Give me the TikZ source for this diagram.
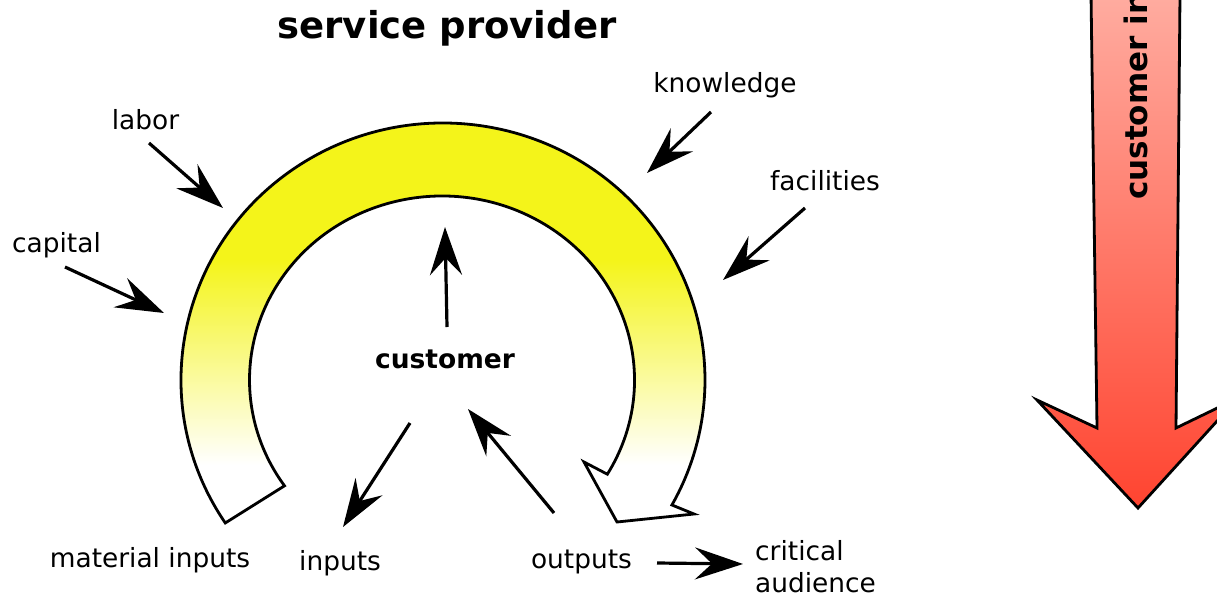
\documentclass[tikz,border=0pt]{standalone}
\usepackage{fontspec}
\setmainfont{DejaVu Sans}
\usetikzlibrary{arrows.meta}
\definecolor{arcyellow}{RGB}{244,244,26}
\definecolor{redtop}{RGB}{255,172,160}
\definecolor{redbot}{RGB}{255,68,48}
\tikzset{
  lbl/.style={inner sep=0pt, anchor=base, font=\fontsize{26.4}{32}\selectfont},
  boldlbl/.style={inner sep=0pt, anchor=base, font=\fontsize{26.5}{32}\selectfont\bfseries},
  titlelbl/.style={inner sep=0pt, anchor=base, font=\fontsize{37}{44}\selectfont\bfseries},
  flow/.style={line width=3.2pt, -{Stealth[length=48pt,width=32pt,inset=17pt]}},
  outline/.style={line width=2.8pt, line join=miter},
}
\begin{document}
\begin{tikzpicture}[x=1pt,y=-1pt]
\useasboundingbox (0,0) rectangle (1217,597);
\clip (0,0) rectangle (1217,597);
\def\ArcPath{([shift={(443,380)}]146.2:262 and 257) arc[start angle=146.2, end angle=389.1, x radius=262, y radius=257] -- (694,514) -- (617,522) -- (584,462) -- ([shift={(442,380)}]30.8:192.5 and 184) arc[start angle=390.8, end angle=144.9, x radius=192.5, y radius=184] -- cycle}
% yellow arc with gradient
\begin{scope}
\clip \ArcPath;
\fill[arcyellow] (150,100) rectangle (720,261);
\shade[top color=arcyellow, bottom color=white] (150,260) rectangle (720,465);
\end{scope}
\draw[outline] \ArcPath;
% big red arrow
\shadedraw[outline, top color=redtop, bottom color=redbot] (1091,-6) -- (1097,428) -- (1037,400) -- (1138,508) -- (1238,398) -- (1176,428) -- (1180,-6) -- cycle;
\node[rotate=90, anchor=base west, inner sep=0pt, font=\fontsize{31}{36}\selectfont\bfseries] (involve) at (1147,200) {customer in};
% labels
\node[titlelbl] (title) at (447,38) {service provider};
\node[lbl] (labor) at (145.5,129) {labor};
\node[lbl] (capital) at (56.5,252) {capital};
\node[lbl] (knowledge) at (725,92) {knowledge};
\node[lbl] (facilities) at (825,190) {facilities};
\node[boldlbl] (customer) at (445,368) {customer};
\node[lbl] (material) at (150,567) {material inputs};
\node[lbl] (inputs) at (340,570) {inputs};
\node[lbl] (outputs) at (581.5,568) {outputs};
\node[lbl, anchor=base west, align=left] (critical) at (755,592) {critical\\audience};
% arrow end points
\coordinate (laborS) at (149,143); \coordinate (laborT) at (223,208);
\coordinate (capS) at (65,267); \coordinate (capT) at (164,313);
\coordinate (knowS) at (711,112); \coordinate (knowT) at (647,173);
\coordinate (facS) at (805,208); \coordinate (facT) at (723,280);
\coordinate (custS) at (447,327); \coordinate (custT) at (445,227);
\coordinate (inS) at (410,423); \coordinate (inT) at (343,527);
\coordinate (outS) at (554,513); \coordinate (outT) at (468,409);
\coordinate (audS) at (657,563); \coordinate (audT) at (743,564);
\draw[flow] (laborS) -- (laborT);
\draw[flow] (capS) -- (capT);
\draw[flow] (knowS) -- (knowT);
\draw[flow] (facS) -- (facT);
\draw[flow] (custS) -- (custT);
\draw[flow] (inS) -- (inT);
\draw[flow] (outS) -- (outT);
\draw[flow] (audS) -- (audT);
\end{tikzpicture}
\end{document}
